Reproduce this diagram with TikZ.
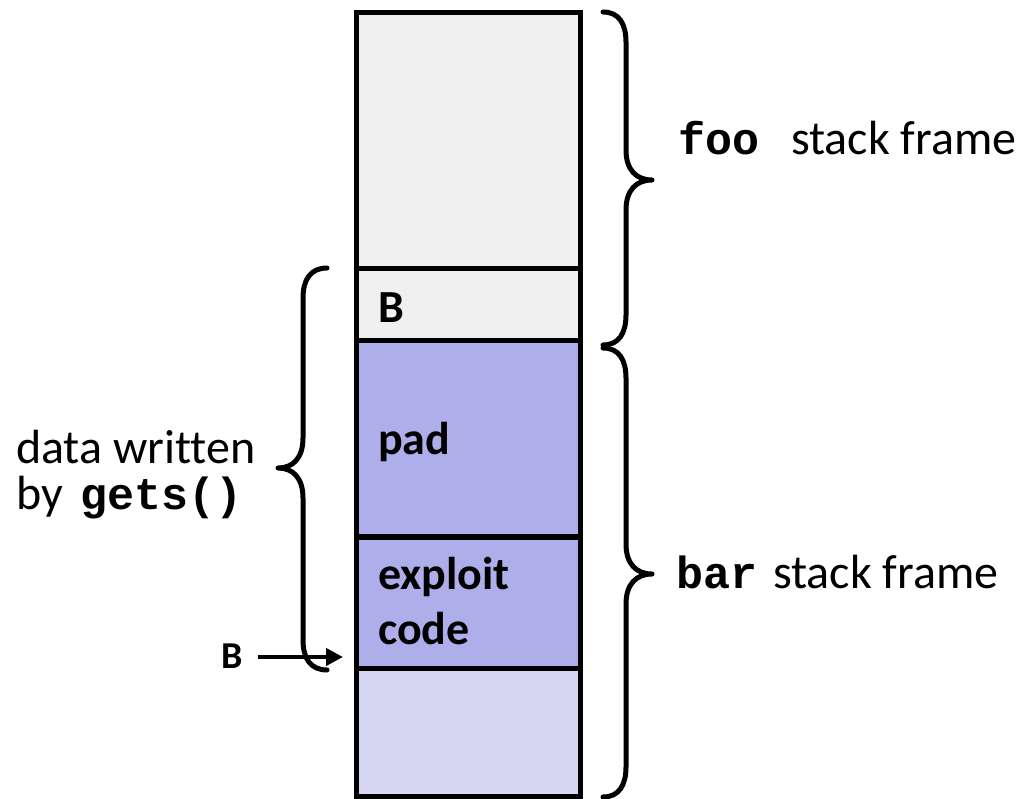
\documentclass[tikz,border=0pt]{standalone}
\usepackage{fontspec}
\setmainfont{Carlito}[Ligatures=NoCommon]
\newfontfamily\codefont{Liberation Mono}
\usetikzlibrary{arrows.meta}

\definecolor{frameGray}{HTML}{F0F0F0}
\definecolor{padBlue}{HTML}{AEAEEB}
\definecolor{lowBlue}{HTML}{D7D7F4}

% curly brace from (x0,y0) to (x0,y1), spine at xm, tip at (xt,ym)
\newcommand\stackbrace[6]{%
  \draw[bracestyle]
    (#1,#4) .. controls ({#1+0.7*(#2-#1)},#4) and (#2,#4+12) .. (#2,#4+30)
    -- (#2,#5-30) .. controls (#2,#5-10) and ({#2+0.4*(#3-#2)},#5) .. (#3,#5)
    .. controls ({#2+0.4*(#3-#2)},#5) and (#2,#5+10) .. (#2,#5+30)
    -- (#2,#6-30) .. controls (#2,#6-12) and ({#1+0.7*(#2-#1)},#6) .. (#1,#6);}

\tikzset{
  cell/.style={draw=black, line width=5.3pt, minimum width=224pt,
    inner sep=0pt, outer sep=0pt, anchor=north},
  bracestyle/.style={line width=5pt, line cap=round, line join=round},
  celltext/.style={anchor=base west, inner sep=0pt,
    font=\fontsize{46}{50}\selectfont\bfseries},
  plaintext/.style={anchor=base west, inner sep=0pt,
    font=\fontsize{48}{52}\selectfont},
  codetext/.style={anchor=base west, inner sep=0pt,
    font=\fontsize{45}{50}\selectfont\codefont\bfseries},
}

\begin{document}
\begin{tikzpicture}[x=1pt,y=-1pt]
\useasboundingbox (0,0) rectangle (1030,799);

% stack column, top to bottom
\node[cell, fill=frameGray, minimum height=256pt]   (fooTop)  at (468.6,12.7) {};
\node[cell, fill=frameGray, minimum height=71.8pt]  (retB)    at (fooTop.south) {};
\node[cell, fill=padBlue,   minimum height=196.5pt] (pad)     at (retB.south) {};
\node[cell, fill=padBlue,   minimum height=131.5pt] (exploit) at (pad.south) {};
\node[cell, fill=lowBlue,   minimum height=128.5pt] (below)   at (exploit.south) {};

% cell labels
\node[celltext] (tB)    at (378,323) {B};
\node[celltext] (tPad)  at (378,454) {pad};
\node[celltext] (tExp)  at (378,589) {exploit};
\node[celltext] (tCode) at (378,644) {code};

% braces
\stackbrace{603}{626}{652}{12}{180}{345}
\stackbrace{603}{626}{652}{348}{574}{797}
\stackbrace{327}{303}{278}{268}{468}{670}

% frame labels
\node[codetext]  (fooName) at (678,155) {foo};
\node[plaintext] (fooText) at (791,155) {stack frame};
\node[codetext]  (barName) at (676,588) {bar};
\node[plaintext] (barText) at (773,588) {stack frame};

% gets() label, two lines
\node[plaintext, text depth=0pt] (dataA) at (16,463) {data written};
\node[plaintext, text height=0.68em] (dataB) at (16,509) {by};
\node[codetext, text height=0.62em]  (gets)  at (80,509) {gets()};

% pointer B
\node[anchor=base west, inner sep=0pt, font=\fontsize{38}{42}\selectfont\bfseries]
  (ptrB) at (221,668) {B};
\coordinate (ptrEnd) at (343,657);
\draw[line width=4pt, -{Triangle[length=17pt,width=17pt]}]
  (ptrB.east |- ptrEnd) ++(15,0) -- (ptrEnd);
\end{tikzpicture}
\end{document}
